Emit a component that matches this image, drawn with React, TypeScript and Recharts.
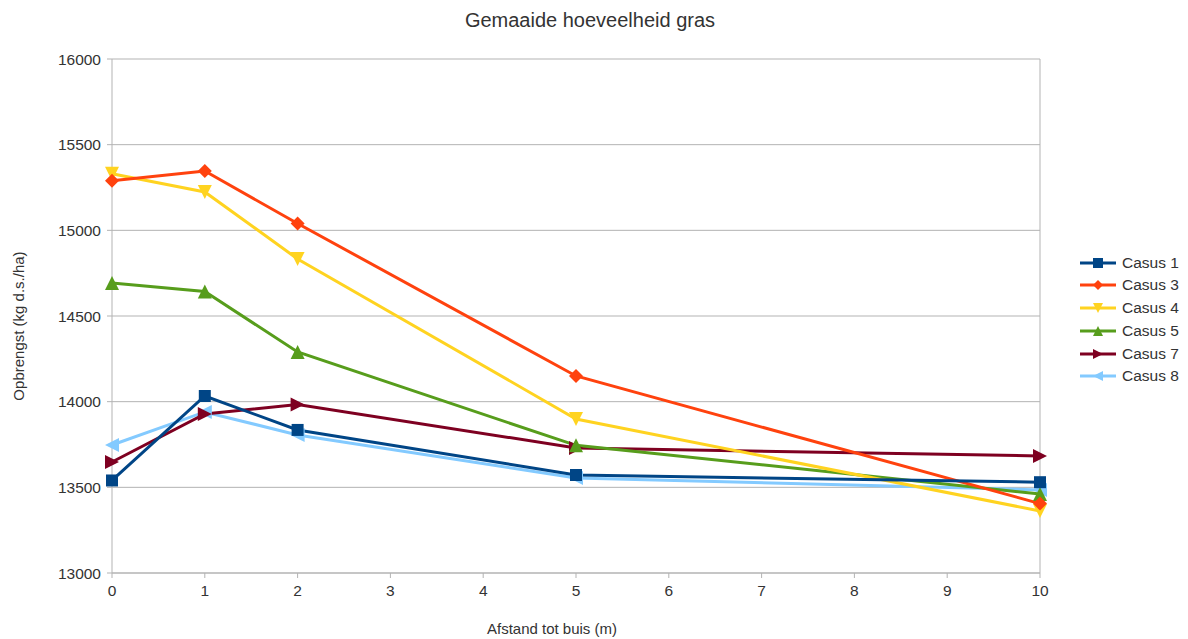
import { CartesianGrid, Label, Legend, Line, LineChart, ReferenceLine, XAxis, YAxis } from "recharts";

// afstand tot de drainagebuis (m)
const distances = [0, 1, 2, 5, 10];

// opbrengst per casus (kg d.s./ha)
const casus1 = [13540, 14033, 13835, 13572, 13530];
const casus3 = [15290, 15346, 15040, 14150, 13405];
const casus4 = [15330, 15224, 14833, 13899, 13362];
const casus5 = [14693, 14643, 14290, 13745, 13461];
const casus7 = [13648, 13928, 13983, 13730, 13683];
const casus8 = [13747, 13940, 13806, 13555, 13485];

const yTicks = [13000, 13500, 14000, 14500, 15000, 15500, 16000];
const xTicks = [0, 1, 2, 3, 4, 5, 6, 7, 8, 9, 10];

type Shape = "square" | "diamond" | "down" | "up" | "right" | "left";

type SeriesDef = {
  key: string;
  name: string;
  color: string;
  shape: Shape;
  values: number[];
};

const series: SeriesDef[] = [
  { key: "c1", name: "Casus 1", color: "#004586", shape: "square", values: casus1 },
  { key: "c3", name: "Casus 3", color: "#ff420e", shape: "diamond", values: casus3 },
  { key: "c4", name: "Casus 4", color: "#ffd320", shape: "down", values: casus4 },
  { key: "c5", name: "Casus 5", color: "#579d1c", shape: "up", values: casus5 },
  { key: "c7", name: "Casus 7", color: "#7e0021", shape: "right", values: casus7 },
  { key: "c8", name: "Casus 8", color: "#83caff", shape: "left", values: casus8 }
];

const rows = distances.map((afstand, i) => {
  const row: Record<string, number> = { afstand };
  series.forEach((s) => {
    row[s.key] = s.values[i];
  });
  return row;
});

const FONT = '"Liberation Sans", Arial, sans-serif';
const TEXT = "#333333";
const GRID = "#b3b3b3";

function markerPath(shape: Shape, cx: number, cy: number, r: number) {
  switch (shape) {
    case "square":
      return `M${cx - r},${cy - r}H${cx + r}V${cy + r}H${cx - r}Z`;
    case "diamond":
      return `M${cx},${cy - r}L${cx + r},${cy}L${cx},${cy + r}L${cx - r},${cy}Z`;
    case "down":
      return `M${cx - r},${cy - r}L${cx + r},${cy - r}L${cx},${cy + r}Z`;
    case "up":
      return `M${cx - r},${cy + r}L${cx + r},${cy + r}L${cx},${cy - r}Z`;
    case "right":
      return `M${cx - r},${cy - r}L${cx - r},${cy + r}L${cx + r},${cy}Z`;
    case "left":
    default:
      return `M${cx + r},${cy - r}L${cx + r},${cy + r}L${cx - r},${cy}Z`;
  }
}

function makeDot(s: SeriesDef) {
  const r = s.shape === "square" ? 6 : 7;
  return (props: { cx?: number; cy?: number; index?: number }) => {
    const { cx, cy, index } = props;
    if (cx == null || cy == null) return <g key={`${s.key}-${index}`} />;
    return <path key={`${s.key}-${index}`} d={markerPath(s.shape, cx, cy, r)} fill={s.color} />;
  };
}

function ChartLegend() {
  return (
    <div style={{ width: 148, paddingLeft: 40, boxSizing: "border-box", fontFamily: FONT }}>
      {series.map((s) => (
        <div key={s.key} style={{ display: "flex", alignItems: "center", height: 22.8 }}>
          <svg width={36} height={14} style={{ marginRight: 6 }}>
            <line x1={0} y1={7} x2={36} y2={7} stroke={s.color} strokeWidth={3} />
            <path d={markerPath(s.shape, 18, 7, 5)} fill={s.color} />
          </svg>
          <span style={{ fontSize: 15.5, color: TEXT }}>{s.name}</span>
        </div>
      ))}
    </div>
  );
}

export default function App() {
  const drawOrder = [...series].reverse();
  return (
    <div style={{ position: "absolute", left: 0, top: 0, width: 1188, height: 639, background: "#fff" }}>
      <div
        style={{
          position: "absolute",
          top: 10,
          left: 0,
          width: 1180,
          textAlign: "center",
          fontFamily: FONT,
          fontSize: 20,
          lineHeight: "20px",
          color: TEXT
        }}
      >
        Gemaaide hoeveelheid gras
      </div>
      <LineChart
        width={1188}
        height={639}
        data={rows}
        margin={{ top: 59, right: 0, bottom: 0, left: 0 }}
        style={{ fontFamily: FONT }}
      >
        <CartesianGrid vertical={false} stroke={GRID} strokeWidth={1} />
        <XAxis
          dataKey="afstand"
          type="number"
          domain={[0, 10]}
          ticks={xTicks}
          interval={0}
          height={66}
          tickSize={5}
          tickMargin={7}
          stroke={GRID}
          tick={{ fill: TEXT, fontSize: 15.5 }}
        >
          <Label
            content={() => (
              <text x={552} y={634} textAnchor="middle" fill={TEXT} fontSize={15} fontFamily={FONT}>
                Afstand tot buis (m)
              </text>
            )}
          />
        </XAxis>
        <YAxis
          type="number"
          domain={[13000, 16000]}
          ticks={yTicks}
          interval={0}
          width={112}
          tickSize={5}
          tickMargin={6}
          stroke={GRID}
          tick={{ fill: TEXT, fontSize: 15.5 }}
        >
          <Label
            content={() => (
              <text
                x={24}
                y={326}
                transform="rotate(-90 24 326)"
                textAnchor="middle"
                fill={TEXT}
                fontSize={15}
                fontFamily={FONT}
              >
                Opbrengst (kg d.s./ha)
              </text>
            )}
          />
        </YAxis>
        <ReferenceLine x={10} stroke={GRID} strokeWidth={1} />
        <Legend layout="vertical" align="right" verticalAlign="middle" content={<ChartLegend />} />
        {drawOrder.map((s) => (
          <Line
            key={s.key}
            type="linear"
            dataKey={s.key}
            name={s.name}
            stroke={s.color}
            strokeWidth={3}
            dot={makeDot(s)}
            activeDot={false}
            isAnimationActive={false}
          />
        ))}
      </LineChart>
    </div>
  );
}
